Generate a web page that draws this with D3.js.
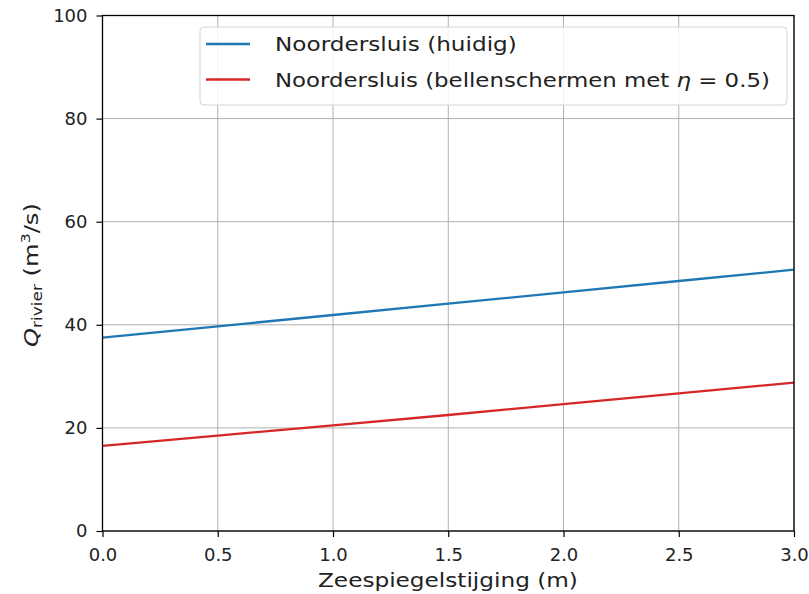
<!DOCTYPE html>
<html lang="nl">
<head>
<meta charset="utf-8">
<title>Q rivier vs zeespiegelstijging</title>
<script src="https://d3js.org/d3.v7.min.js"></script>
<style>
  body { margin: 0; background: #fff; }
  text { font-family: "DejaVu Sans", sans-serif; fill: #222; }
  .tick text { font-size: 18px; }
  .lbl { font-size: 20px; }
  .leg { font-size: 19.5px; }
</style>
</head>
<body>
<div id="vis"></div>
<script>
// data
const rise = [0, 0.5, 1.0, 1.5, 2.0, 2.5, 3.0];
const huidig = [37.5, 39.7, 41.9, 44.1, 46.3, 48.5, 50.7];
const bellen = [16.5, 18.5, 20.5, 22.5, 24.6, 26.7, 28.8];
const xTicks = [0, 0.5, 1.0, 1.5, 2.0, 2.5, 3.0];
const yTicks = [0, 20, 40, 60, 80, 100];
const seriesNames = ["Noordersluis (huidig)", "Noordersluis (bellenschermen met "];
const colors = ["#1f77b4", "#d62728"];

const width = 809, height = 594;
const mLeft = 102.5, mRight = 794, mTop = 15.5, mBottom = 531;

const x = d3.scaleLinear().domain([0, 3]).range([mLeft, mRight]);
const y = d3.scaleLinear().domain([0, 100]).range([mBottom, mTop]);

const svg = d3.select("#vis").append("svg")
  .attr("width", width).attr("height", height);

// widen a label to the width it has in the picture (glyphs look a bit stretched there)
function fit(t, pre, target) {
  const w = t.node().getComputedTextLength();
  t.attr("transform", pre + " scale(" + (target / w) + ",1)");
}

// grid
svg.append("g").selectAll("line").data(xTicks).join("line")
  .attr("x1", d => x(d)).attr("x2", d => x(d))
  .attr("y1", mTop).attr("y2", mBottom)
  .attr("stroke", "#b0b0b0").attr("stroke-width", 1);
svg.append("g").selectAll("line").data(yTicks).join("line")
  .attr("x1", mLeft).attr("x2", mRight)
  .attr("y1", d => y(d)).attr("y2", d => y(d))
  .attr("stroke", "#b0b0b0").attr("stroke-width", 1);

// lines
const line = d3.line().x((d, i) => x(rise[i])).y(d => y(d));
[huidig, bellen].forEach((s, i) => {
  svg.append("path").datum(s)
    .attr("d", line)
    .attr("fill", "none")
    .attr("stroke", colors[i])
    .attr("stroke-width", 2.3);
});

// axes
const xAxis = svg.append("g")
  .attr("transform", "translate(0," + mBottom + ")")
  .call(d3.axisBottom(x).tickValues(xTicks).tickFormat(d3.format(".1f")).tickSizeOuter(0).tickSize(6).tickPadding(11));
const yAxis = svg.append("g")
  .attr("transform", "translate(" + mLeft + ",0)")
  .call(d3.axisLeft(y).tickValues(yTicks).tickSizeOuter(0).tickSize(6).tickPadding(9));
[xAxis, yAxis].forEach(g => {
  g.select(".domain").remove();
  g.selectAll(".tick line").attr("stroke", "#000").attr("stroke-width", 1.2);
  g.selectAll(".tick text").attr("fill", "#222");
});

// frame
svg.append("rect")
  .attr("x", mLeft).attr("y", mTop)
  .attr("width", mRight - mLeft).attr("height", mBottom - mTop)
  .attr("fill", "none").attr("stroke", "#000").attr("stroke-width", 1.3);

// axis labels
const xl = svg.append("text").attr("class", "lbl")
  .text("Zeespiegelstijging (m)");
fit(xl, "translate(318,587)", 260);

const yl = svg.append("text").attr("class", "lbl");
yl.append("tspan").attr("font-style", "italic").text("Q");
yl.append("tspan").attr("font-size", "14px").attr("dy", 4).text("rivier");
yl.append("tspan").attr("dy", -4).text(" (m");
yl.append("tspan").attr("font-size", "13px").attr("dy", -8).text("3");
yl.append("tspan").attr("dy", 8).text("/s)");
fit(yl, "translate(38,347) rotate(-90)", 144);

// legend
const lg = svg.append("g");
lg.append("rect")
  .attr("x", 200).attr("y", 27).attr("width", 587).attr("height", 78)
  .attr("rx", 4).attr("fill", "#fff").attr("fill-opacity", 0.85)
  .attr("stroke", "#d5d5d5");
const legW = [242, 495];
seriesNames.forEach((n, i) => {
  const cy = 44 + i * 35.5;
  lg.append("line")
    .attr("x1", 206).attr("x2", 250).attr("y1", cy).attr("y2", cy)
    .attr("stroke", colors[i]).attr("stroke-width", 2.3);
  const t = lg.append("text").attr("class", "leg").text(n);
  if (i === 1) {
    t.append("tspan").attr("font-style", "italic").text("η");
    t.append("tspan").text(" = 0.5)");
  }
  fit(t, "translate(275," + (cy + 7) + ")", legW[i]);
});
</script>
</body>
</html>
